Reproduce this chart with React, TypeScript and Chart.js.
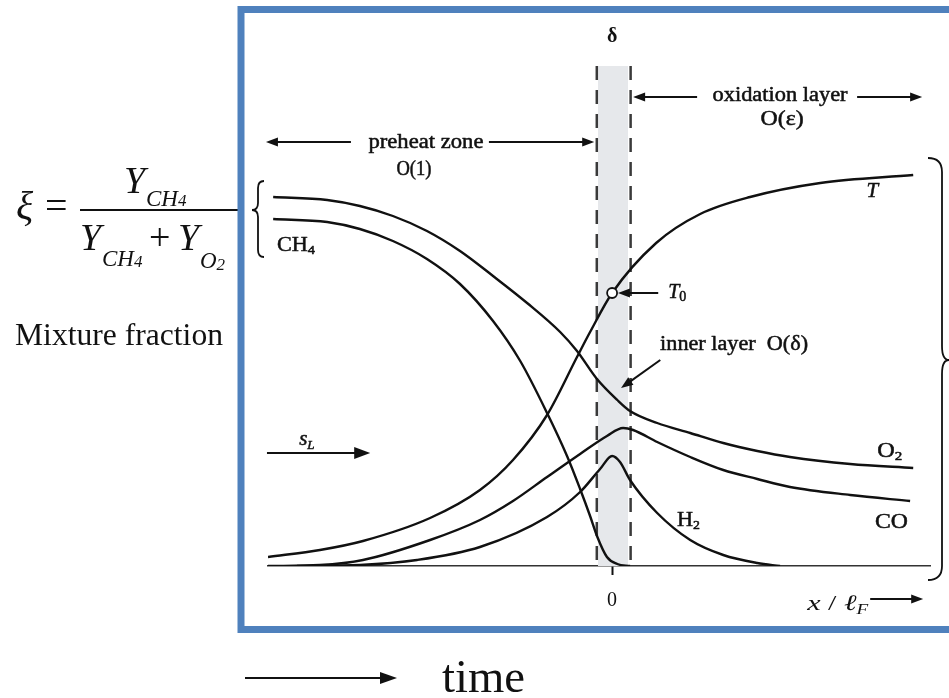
import React, { useEffect, useRef } from "react";
import { Chart, registerables } from "chart.js";

Chart.register(...registerables);

const SERIF = '"Liberation Serif", "Times New Roman", serif';
const INK = "#111111";

// Axis range (x / l_F, normalised species / temperature)
const X_MIN = -10;
const X_MAX = 9.244;
const Y_MIN = 0;
const Y_MAX = 1;
const X_TICKS = [0];
const X_TICK_LABELS = ["0"];

// Temperature T
const T_X = [-10.0, -8.49, -7.24, -5.29, -3.84, -2.88, -1.89, -1.02, -0.64, 0.0, 1.28, 2.56, 4.01, 6.05, 8.75];
const T_Y = [0.018, 0.032, 0.05, 0.096, 0.152, 0.212, 0.302, 0.418, 0.468, 0.546, 0.646, 0.704, 0.738, 0.766, 0.782];

// O2
const O2_X = [-9.85, -8.28, -7.33, -6.37, -5.38, -4.42, -3.46, -2.47, -1.51, -1.02, -0.44, 0.15, 0.52, 1.31, 2.27, 3.23, 4.22, 5.17, 6.92, 8.75];
const O2_Y = [0.738, 0.732, 0.72, 0.7, 0.67, 0.63, 0.58, 0.526, 0.468, 0.43, 0.374, 0.332, 0.31, 0.286, 0.266, 0.246, 0.23, 0.218, 0.204, 0.196];

// CH4
const CH4_X = [-9.85, -8.28, -7.33, -6.37, -5.38, -4.42, -3.46, -2.67, -1.89, -1.31, -0.93, -0.64, -0.44, -0.15, 0.15, 0.52];
const CH4_Y = [0.694, 0.688, 0.674, 0.65, 0.614, 0.564, 0.49, 0.41, 0.306, 0.22, 0.154, 0.1, 0.06, 0.018, 0.004, 0.0];

// CO
const CO_X = [-10.0, -8.49, -7.24, -5.29, -3.84, -2.88, -1.89, -0.93, -0.15, 0.32, 0.61, 1.31, 2.27, 3.23, 4.22, 5.17, 6.92, 8.66];
const CO_Y = [0.0, 0.002, 0.012, 0.052, 0.092, 0.13, 0.178, 0.224, 0.26, 0.276, 0.272, 0.248, 0.218, 0.192, 0.174, 0.158, 0.142, 0.13];

// H2
const H2_X = [-9.16, -7.33, -5.67, -3.84, -1.89, -0.93, -0.35, 0.0, 0.23, 0.52, 1.31, 2.27, 3.23, 4.22, 4.88];
const H2_Y = [0.0, 0.002, 0.012, 0.038, 0.098, 0.148, 0.194, 0.22, 0.208, 0.172, 0.106, 0.052, 0.022, 0.006, 0.0];

// Marked point T0 on the temperature curve
const T0_X = [0];
const T0_Y = [0.546];

// Inner layer O(delta): dashed borders and shaded band
const INNER_DASH_X = [-0.445, 0.538];
const INNER_BAND_X = [-0.41, 0.465];
const BAND_Y = [1, 1];
const DASH_Y = [1, 0];

const pts = (xs: number[], ys: number[]) => xs.map((x, i) => ({ x, y: ys[i] }));

type Part = { t: string; s: number; i?: boolean; b?: boolean; dy?: number };
const fontOf = (p: Part) => `${p.i ? "italic " : ""}${p.b ? "bold " : ""}${p.s}px ${SERIF}`;

function rich(
  ctx: CanvasRenderingContext2D,
  x: number,
  y: number,
  parts: Part[],
  align: "left" | "center" | "right" = "left",
  target?: number,
  heavy = 0
) {
  let w = 0;
  for (const p of parts) {
    ctx.font = fontOf(p);
    w += ctx.measureText(p.t).width;
  }
  const k = target ? target / w : 1;
  const W = w * k;
  const sx = align === "left" ? x : align === "center" ? x - W / 2 : x - W;
  ctx.save();
  ctx.translate(sx, y);
  ctx.scale(k, 1);
  ctx.textAlign = "left";
  ctx.textBaseline = "alphabetic";
  ctx.fillStyle = INK;
  ctx.strokeStyle = INK;
  ctx.lineWidth = heavy;
  ctx.lineJoin = "round";
  let cx = 0;
  for (const p of parts) {
    ctx.font = fontOf(p);
    ctx.fillText(p.t, cx, p.dy || 0);
    if (heavy > 0) ctx.strokeText(p.t, cx, p.dy || 0);
    cx += ctx.measureText(p.t).width;
  }
  ctx.restore();
}

function arrow(
  ctx: CanvasRenderingContext2D,
  x1: number,
  y1: number,
  x2: number,
  y2: number,
  lw = 2,
  head = 12,
  half = 4.5
) {
  const a = Math.atan2(y2 - y1, x2 - x1);
  const bx = x2 - head * Math.cos(a);
  const by = y2 - head * Math.sin(a);
  ctx.save();
  ctx.strokeStyle = INK;
  ctx.fillStyle = INK;
  ctx.lineWidth = lw;
  ctx.beginPath();
  ctx.moveTo(x1, y1);
  ctx.lineTo(bx + Math.cos(a), by + Math.sin(a));
  ctx.stroke();
  ctx.beginPath();
  ctx.moveTo(x2, y2);
  ctx.lineTo(bx + half * Math.sin(a), by - half * Math.cos(a));
  ctx.lineTo(bx - half * Math.sin(a), by + half * Math.cos(a));
  ctx.closePath();
  ctx.fill();
  ctx.restore();
}

const H = 0.5; // extra ink weight for the scanned in-figure labels

const annotations = {
  id: "annotations",
  afterDraw(chart: any) {
    const ctx: CanvasRenderingContext2D = chart.ctx;
    const xs = chart.scales.x;
    const ys = chart.scales.y;
    const px = (v: number) => xs.getPixelForValue(v);
    const py = (v: number) => ys.getPixelForValue(v);
    ctx.save();

    // zone labels
    rich(ctx, px(0), py(1.048), [{ t: "δ", s: 20, b: true }], "center");
    rich(ctx, px(-5.41), py(0.836), [{ t: "preheat zone", s: 20 }], "center", 115, H);
    rich(ctx, px(-5.76), py(0.782), [{ t: "O(1)", s: 20 }], "center", 35, H);
    arrow(ctx, px(-7.59), py(0.848), px(-10.06), py(0.848));
    arrow(ctx, px(-3.58), py(0.848), px(-0.52), py(0.848));

    rich(ctx, px(4.88), py(0.93), [{ t: "oxidation layer", s: 20 }], "center", 135, H);
    rich(ctx, px(4.94), py(0.882), [{ t: "O(ε)", s: 20 }], "center", 43, H);
    arrow(ctx, px(2.47), py(0.938), px(0.61), py(0.938));
    arrow(ctx, px(7.12), py(0.938), px(9.01), py(0.938));

    // curve labels
    rich(ctx, px(-9.74), py(0.63), [{ t: "CH", s: 20 }, { t: "4", s: 13, dy: 3 }], "left", 38, H);
    rich(ctx, px(7.56), py(0.738), [{ t: "T", s: 21, i: true }], "center", undefined, H);
    rich(ctx, px(8.07), py(0.218), [{ t: "O", s: 21 }, { t: "2", s: 13, dy: 3 }], "center", 25, H);
    rich(ctx, px(8.12), py(0.076), [{ t: "CO", s: 21 }], "center", 33, H);
    rich(ctx, px(2.22), py(0.08), [{ t: "H", s: 21 }, { t: "2", s: 13, dy: 3 }], "center", 23, H);

    // T0 marker label
    arrow(ctx, px(1.34), py(0.546), px(0.17), py(0.546));
    rich(ctx, px(1.63), py(0.536), [{ t: "T", s: 20, i: true }, { t: "0", s: 14, dy: 3 }], "left", undefined, H);

    // inner layer label
    rich(ctx, px(1.395), py(0.432), [{ t: "inner layer  O(δ)", s: 20 }], "left", 148, H);
    arrow(ctx, px(1.4), py(0.412), px(0.26), py(0.356));

    // flame speed
    rich(ctx, px(-8.87), py(0.242), [{ t: "s", s: 21, i: true }, { t: "L", s: 13, i: true, dy: 4 }], "center", undefined, H);
    arrow(ctx, px(-10.03), py(0.226), px(-7.03), py(0.226), 2.2, 16, 6);

    // axis variable
    rich(ctx, px(5.67), py(-0.088), [
      { t: "x", s: 22, i: true },
      { t: " / ", s: 22 },
      { t: "ℓ", s: 22, i: true },
      { t: "F", s: 14, i: true, dy: 4 },
    ], "left", 61);
    arrow(ctx, px(7.5), py(-0.066), px(9.04), py(-0.066), 2, 12, 4.5);

    // right brace
    ctx.strokeStyle = INK;
    ctx.lineWidth = 1.8;
    ctx.beginPath();
    ctx.moveTo(928, 158);
    ctx.quadraticCurveTo(942, 158, 942, 172);
    ctx.lineTo(942, 346);
    ctx.quadraticCurveTo(942, 360, 949, 360);
    ctx.quadraticCurveTo(942, 360, 942, 374);
    ctx.lineTo(942, 566);
    ctx.quadraticCurveTo(942, 580, 928, 580);
    ctx.stroke();

    // left brace grouping O2 / CH4 inlet values
    ctx.beginPath();
    ctx.moveTo(264, 181);
    ctx.quadraticCurveTo(258, 181, 258, 188);
    ctx.lineTo(258, 203);
    ctx.quadraticCurveTo(258, 210, 252, 210);
    ctx.quadraticCurveTo(258, 210, 258, 217);
    ctx.lineTo(258, 250);
    ctx.quadraticCurveTo(258, 257, 264, 257);
    ctx.stroke();

    // mixture fraction formula
    rich(ctx, 16, 219, [{ t: "ξ", s: 40, i: true }]);
    rich(ctx, 45, 219, [{ t: "=", s: 40 }]);
    rich(ctx, 124, 193, [{ t: "Y", s: 38, i: true }]);
    rich(ctx, 146, 206, [{ t: "CH", s: 23, i: true }, { t: "4", s: 17, i: true }]);
    ctx.lineWidth = 2;
    ctx.beginPath();
    ctx.moveTo(80, 210);
    ctx.lineTo(240, 210);
    ctx.stroke();
    rich(ctx, 80, 250, [{ t: "Y", s: 38, i: true }]);
    rich(ctx, 102, 266, [{ t: "CH", s: 23, i: true }, { t: "4", s: 17, i: true, dy: 1 }]);
    rich(ctx, 149, 250, [{ t: "+", s: 38 }]);
    rich(ctx, 178, 250, [{ t: "Y", s: 38, i: true }]);
    rich(ctx, 200, 268, [{ t: "O", s: 23, i: true }, { t: "2", s: 17, i: true, dy: 2 }]);
    rich(ctx, 15, 345, [{ t: "Mixture fraction", s: 31 }], "left", 208);

    // time arrow
    arrow(ctx, 245, 678, 397, 678, 2, 17, 6);
    rich(ctx, 442, 692, [{ t: "time", s: 46 }], "left", 83);

    // blue frame
    ctx.strokeStyle = "#4F81BD";
    ctx.lineWidth = 7;
    ctx.strokeRect(241, 9.5, 760, 620);

    ctx.restore();
  },
};

export default function App() {
  const ref = useRef<HTMLCanvasElement>(null);
  useEffect(() => {
    if (!ref.current) return;
    const curve = (data: any) => ({
      data,
      borderColor: INK,
      borderWidth: 2.4,
      pointRadius: 0,
      fill: false,
      cubicInterpolationMode: "monotone" as const,
      order: 1,
    });
    const dash = (x: number) => ({
      data: pts([x, x], DASH_Y),
      borderColor: "#3a3a3a",
      borderWidth: 2.5,
      borderDash: [14, 10],
      pointRadius: 0,
      fill: false,
      order: 5,
    });
    const chart = new Chart(ref.current, {
      type: "line",
      data: {
        datasets: [
          {
            data: pts(INNER_BAND_X, BAND_Y),
            borderWidth: 0,
            borderColor: "rgba(0,0,0,0)",
            backgroundColor: "#e6e8eb",
            pointRadius: 0,
            fill: "origin",
            order: 10,
          },
          dash(INNER_DASH_X[0]),
          dash(INNER_DASH_X[1]),
          curve(pts(T_X, T_Y)),
          curve(pts(O2_X, O2_Y)),
          curve(pts(CH4_X, CH4_Y)),
          curve(pts(CO_X, CO_Y)),
          curve(pts(H2_X, H2_Y)),
          {
            data: pts(T0_X, T0_Y),
            showLine: false,
            pointRadius: 5,
            pointBackgroundColor: "#ffffff",
            pointBorderColor: INK,
            pointBorderWidth: 1.8,
            order: 0,
          },
        ],
      },
      options: {
        animation: false,
        responsive: false,
        devicePixelRatio: 1,
        events: [],
        layout: { padding: { left: 268, right: 18.8, top: 66, bottom: 0 } },
        plugins: {
          legend: { display: false },
          tooltip: { enabled: false },
          title: { display: false },
        },
        scales: {
          x: {
            type: "linear",
            min: X_MIN,
            max: X_MAX,
            afterBuildTicks: (s: any) => {
              s.ticks = X_TICKS.map((v) => ({ value: v }));
            },
            afterFit: (s: any) => {
              s.height = 132;
            },
            ticks: {
              autoSkip: false,
              maxRotation: 0,
              padding: 14,
              color: INK,
              font: { family: SERIF, size: 20 },
              callback: (v: any) => {
                const i = X_TICKS.indexOf(Number(v));
                return i >= 0 ? X_TICK_LABELS[i] : "";
              },
            },
            grid: {
              display: true,
              drawOnChartArea: false,
              drawTicks: true,
              tickLength: 9,
              tickWidth: 2,
              tickColor: INK,
            },
            border: { display: true, color: "#333", width: 1.5 },
          },
          y: { type: "linear", display: false, min: Y_MIN, max: Y_MAX },
        },
      },
      plugins: [annotations],
    } as any);
    return () => chart.destroy();
  }, []);
  return (
    <div style={{ position: "absolute", left: 0, top: 0, width: 949, height: 698, background: "#fff" }}>
      <canvas ref={ref} width={949} height={698} style={{ width: 949, height: 698, display: "block" }} />
    </div>
  );
}
